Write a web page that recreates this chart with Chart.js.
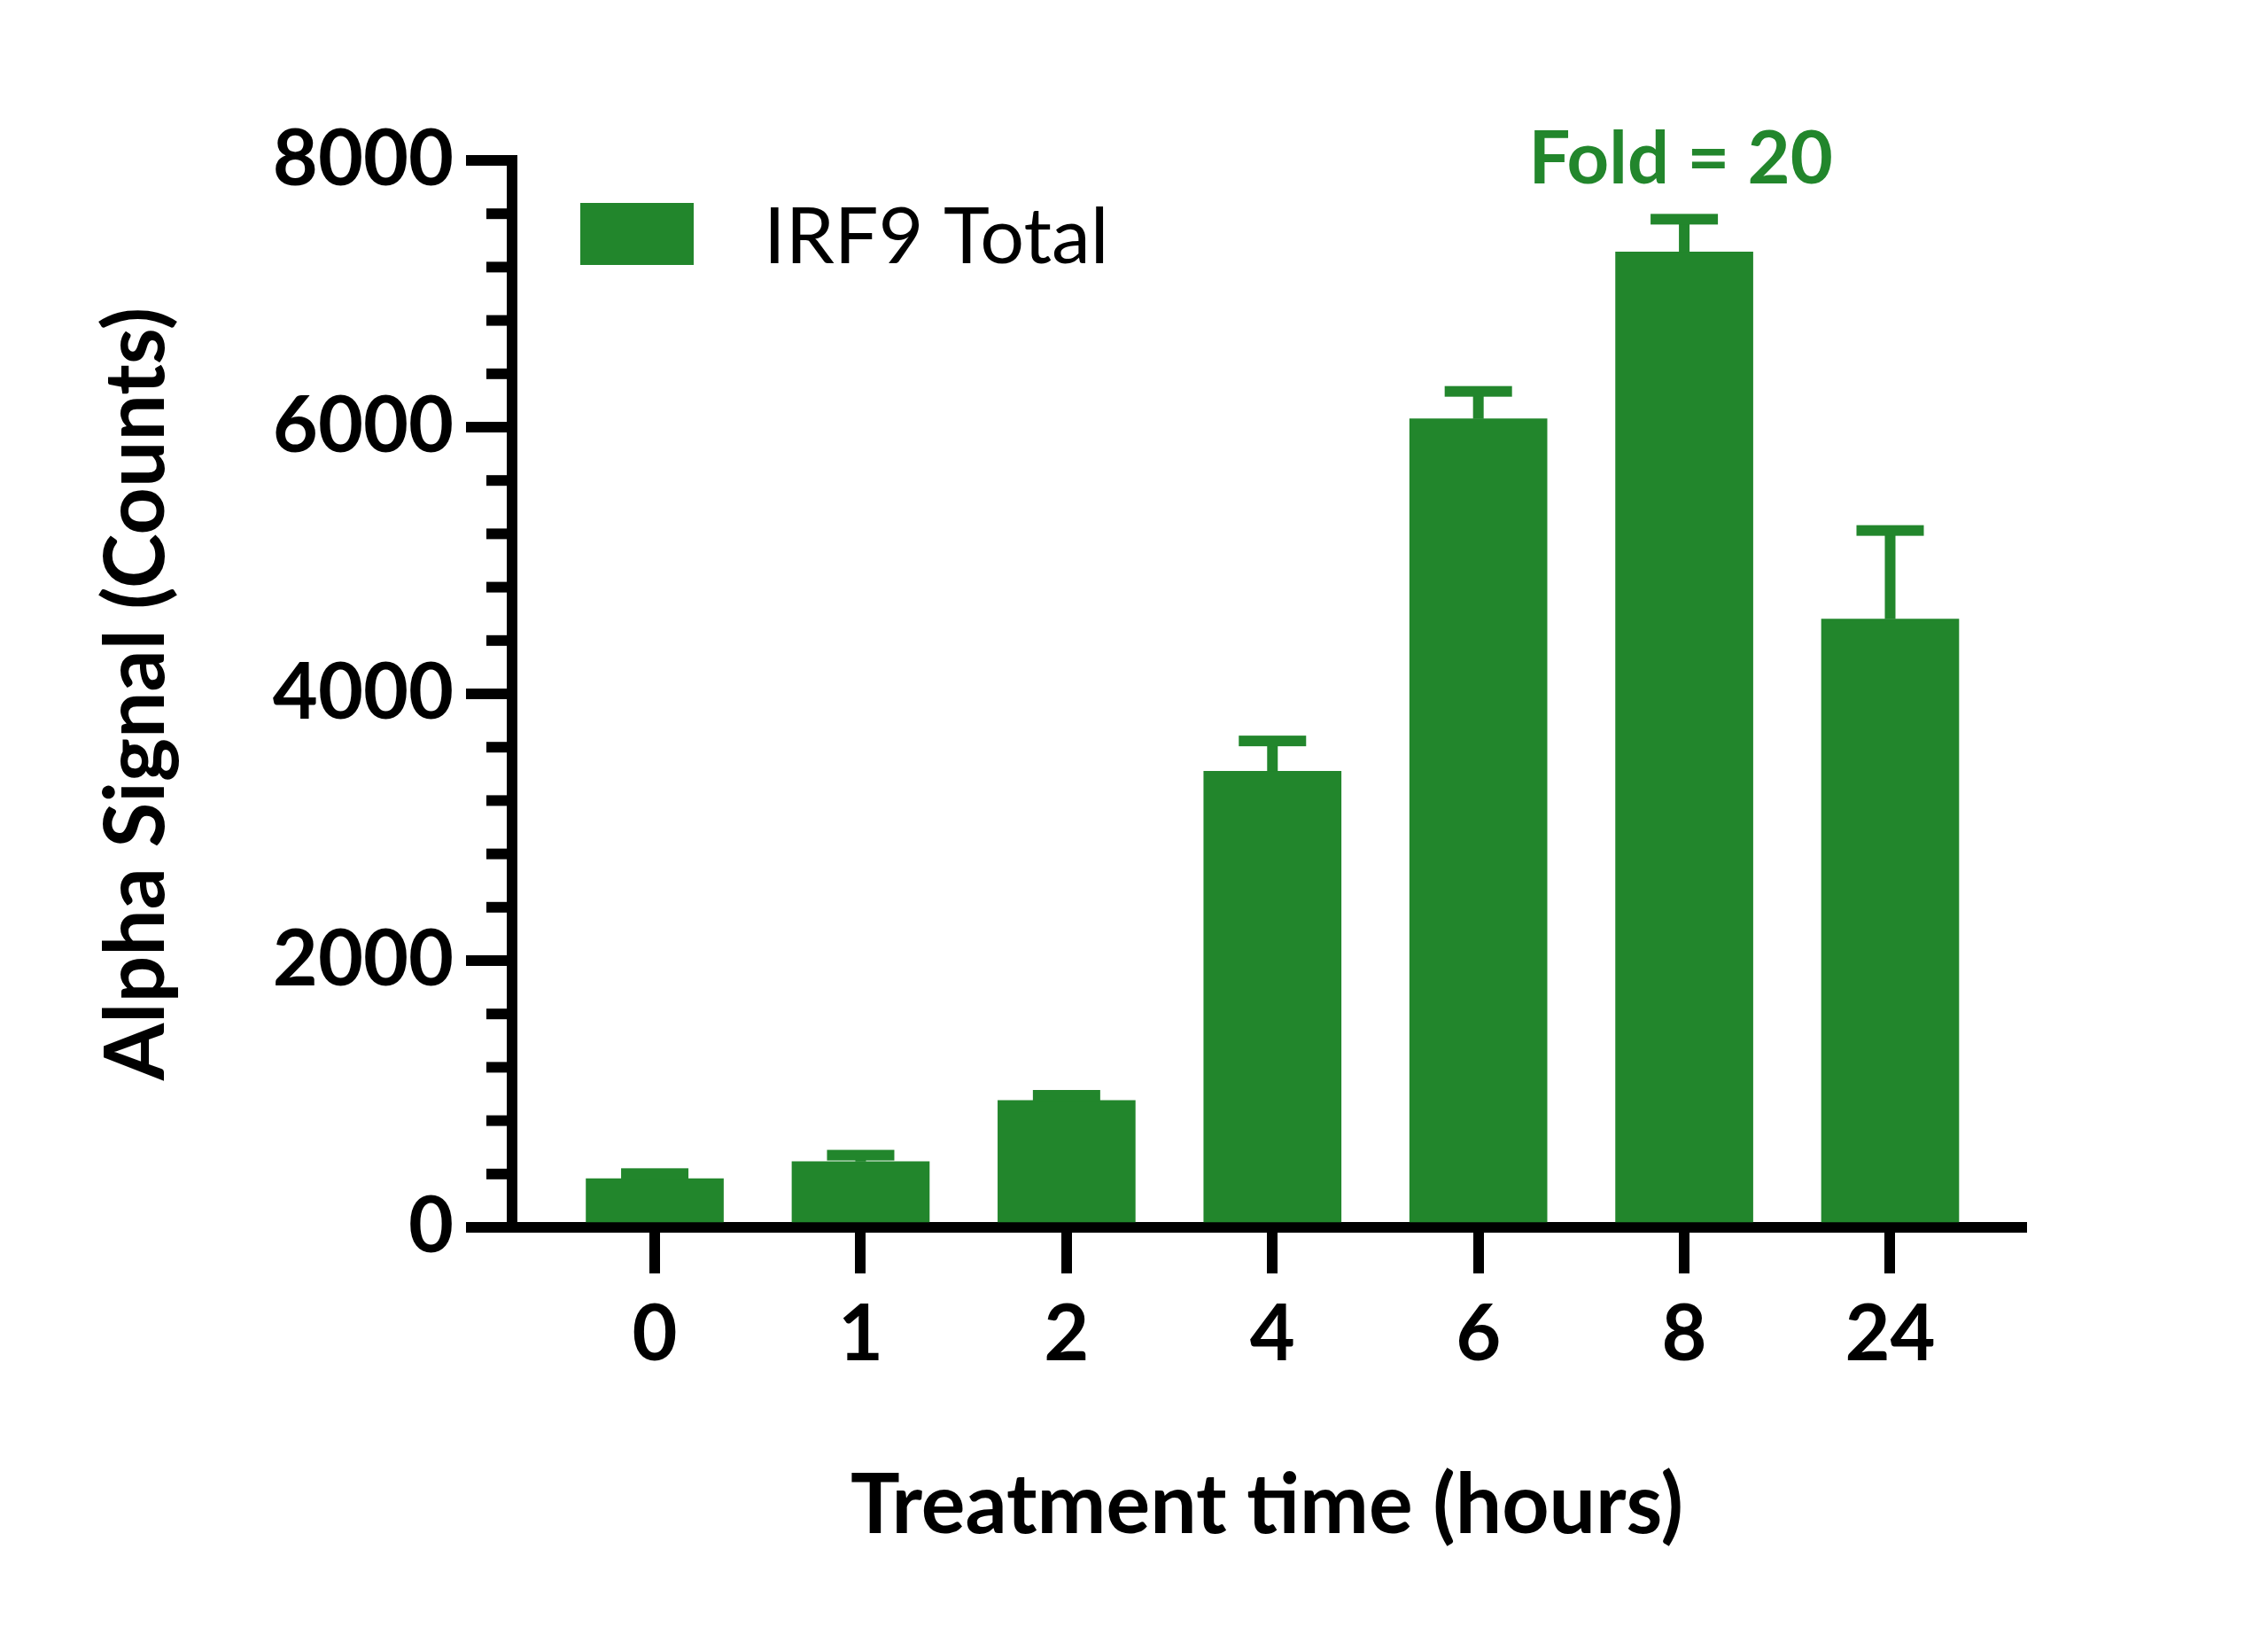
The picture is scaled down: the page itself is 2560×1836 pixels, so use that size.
<!DOCTYPE html>
<html>
<head>
<meta charset="utf-8">
<title>IRF9 Total</title>
<script src="https://cdn.jsdelivr.net/npm/chart.js@4.4.1/dist/chart.umd.min.js"></script>
<style>
  html, body { margin: 0; padding: 0; background: #fff; }
  #wrap { width: 2560px; height: 1836px; }
</style>
</head>
<body>
<div id="wrap"><canvas id="myChart" width="2560" height="1836"></canvas></div>
<script>
// values
const categories = ['0', '1', '2', '4', '6', '8', '24'];
const signal = [365, 493, 952, 3419, 6062, 7313, 4561];
const signalSd = [38, 48, 38, 228, 206, 246, 664];
const yTicks = [0, 2000, 4000, 6000, 8000];
const minorStep = 400;
const seriesName = 'IRF9 Total';
const foldText = 'Fold = 20';
const foldAt = '8';

const green = '#22862c';
const ink = '#000';
const family = 'Lato, "Open Sans", sans-serif';

const ctx = document.getElementById('myChart');

const extras = {
    id: 'extras',
    afterDatasetsDraw(chart) {
        const c = chart.ctx;
        const y = chart.scales.y;
        const meta = chart.getDatasetMeta(0);
        c.save();
        c.fillStyle = green;
        meta.data.forEach((bar, i) => {
            const top = y.getPixelForValue(signal[i] + signalSd[i]);
            c.fillRect(bar.x - 6, top, 12, bar.y - top);
            c.fillRect(bar.x - 38, top - 6, 76, 12);
        });
        c.restore();
    },
    afterDraw(chart) {
        const c = chart.ctx;
        const x = chart.scales.x, y = chart.scales.y;
        const a = chart.chartArea;
        c.save();

        // minor ticks on the y axis
        c.fillStyle = ink;
        for (let v = yTicks[0]; v <= yTicks[yTicks.length - 1]; v += minorStep) {
            if (yTicks.includes(v)) continue;
            const py = y.getPixelForValue(v);
            c.fillRect(y.right - 29, py - 6, 29, 12);
        }

        // legend
        c.fillStyle = green;
        c.fillRect(a.left + 77, a.top + 48, 128, 70);
        c.fillStyle = ink;
        c.font = `400 88px ${family}`;
        c.textAlign = 'left';
        c.textBaseline = 'alphabetic';
        c.fillText(seriesName, a.left + 284, a.top + 116);

        // fold annotation
        const k = categories.indexOf(foldAt);
        c.fillStyle = green;
        c.font = `700 83px ${family}`;
        c.textAlign = 'center';
        c.fillText(foldText, x.getPixelForValue(k) - 4, y.getPixelForValue(signal[k] + signalSd[k]) - 40);
        c.restore();
    }
};

new Chart(ctx, {
    type: 'bar',
    data: {
        datasets: [{
            label: seriesName,
            data: signal.map((v, i) => ({ x: i, y: v })),
            backgroundColor: green,
            borderWidth: 0,
            barThickness: 155
        }]
    },
    options: {
        responsive: false,
        devicePixelRatio: 1,
        animation: false,
        layout: { padding: { top: 181, right: 278, bottom: 0, left: 0 } },
        plugins: {
            legend: { display: false },
            tooltip: { enabled: false }
        },
        scales: {
            x: {
                type: 'linear',
                min: -0.693,
                max: 6.639,
                offset: false,
                z: 1,
                afterBuildTicks: s => { s.ticks = categories.map((c, i) => ({ value: i })); },
                afterFit: s => { s.height = 451; },
                ticks: {
                    autoSkip: false,
                    maxRotation: 0,
                    color: ink,
                    padding: 17,
                    font: { family, size: 88, weight: 'bold' },
                    callback: v => categories[v]
                },
                grid: {
                    offset: false,
                    drawOnChartArea: false,
                    tickLength: 52,
                    tickWidth: 12,
                    lineWidth: 12,
                    tickColor: ink
                },
                border: { display: true, width: 12, color: ink },
                title: {
                    display: true,
                    text: 'Treatment time (hours)',
                    color: ink,
                    font: { family, size: 93, weight: 'bold' },
                    padding: { top: 0, bottom: 80 }
                }
            },
            y: {
                min: yTicks[0],
                max: yTicks[yTicks.length - 1],
                z: 1,
                afterBuildTicks: s => { s.ticks = yTicks.map(v => ({ value: v })); },
                afterFit: s => { s.width = 578; },
                ticks: {
                    autoSkip: false,
                    color: ink,
                    padding: 14,
                    font: { family, size: 88, weight: 'bold' },
                    callback: v => String(v)
                },
                grid: {
                    drawOnChartArea: false,
                    tickLength: 52,
                    tickWidth: 12,
                    lineWidth: 12,
                    tickColor: ink
                },
                border: { display: true, width: 12, color: ink },
                title: {
                    display: true,
                    text: 'Alpha Signal (Counts)',
                    color: ink,
                    font: { family, size: 93, weight: 'bold' },
                    padding: { top: 99, bottom: 0 }
                }
            }
        }
    },
    plugins: [extras]
});
</script>
</body>
</html>
